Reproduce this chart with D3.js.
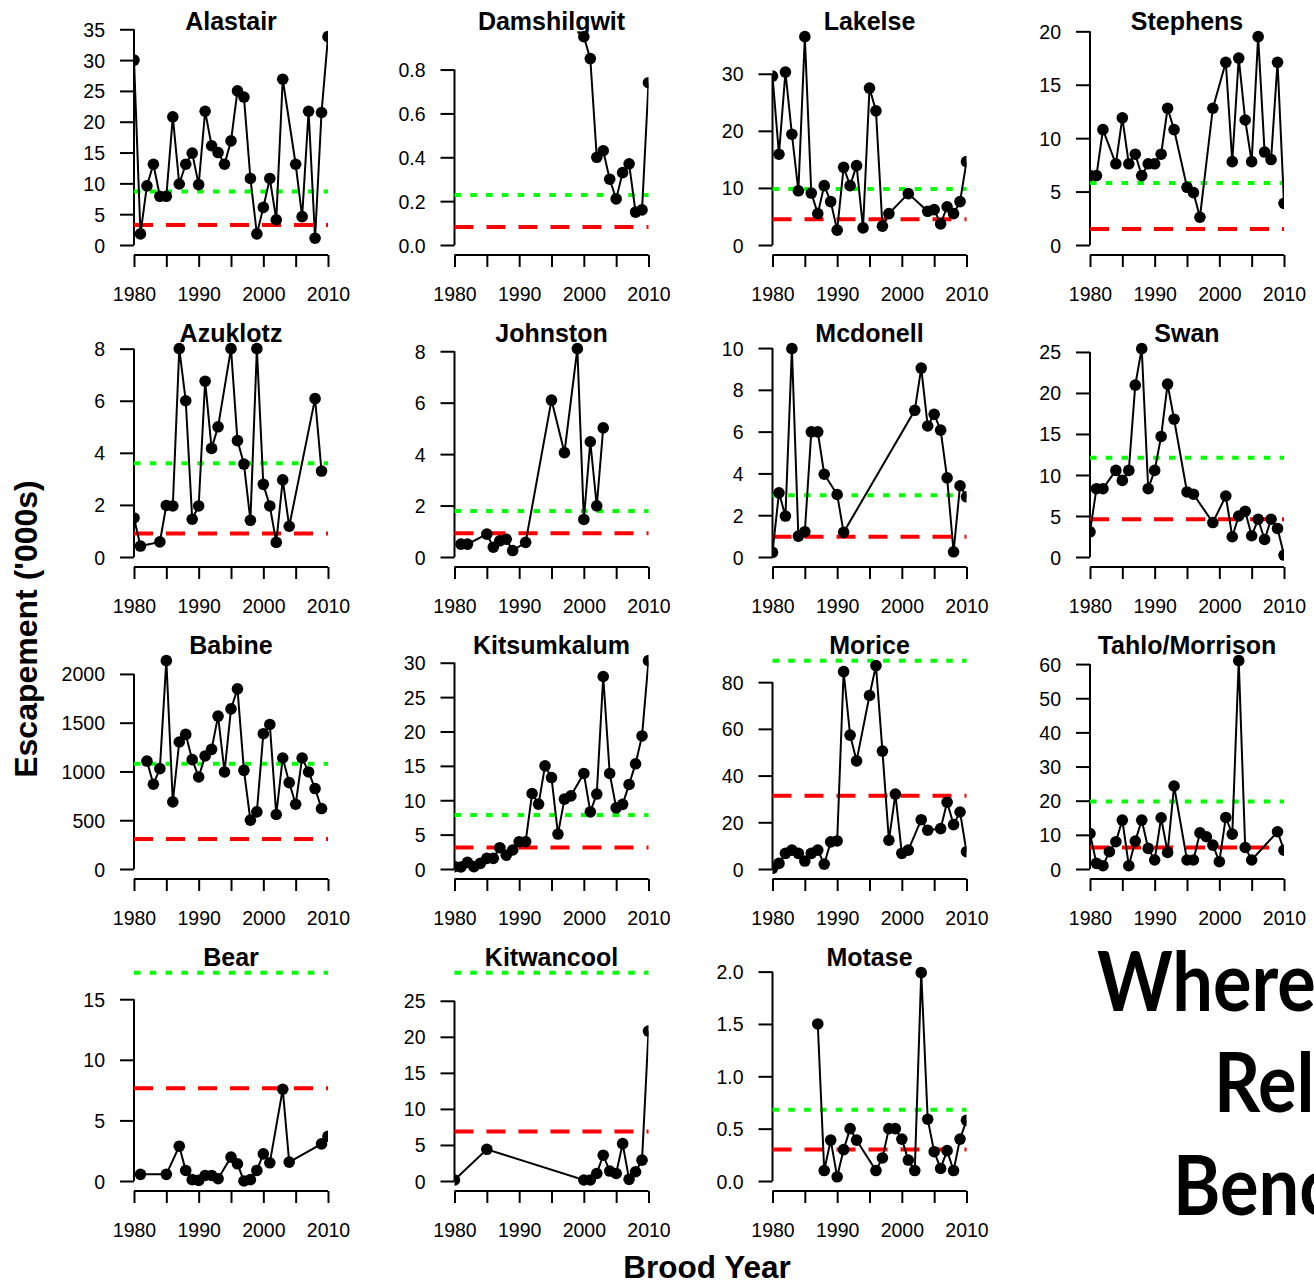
<!DOCTYPE html>
<html lang="en">
<head>
<meta charset="UTF-8">
<title>Skeena sockeye escapement vs benchmarks</title>
<script src="https://d3js.org/d3.v7.min.js"></script>
<style>
  body { margin: 0; background: #fff; }
  svg { display: block; font-family: "Liberation Sans", Arial, sans-serif; }
</style>
</head>
<body>
<svg id="chart" width="1314" height="1284"></svg>
<script>
// escapement ('000s) by brood year, one pair of arrays per stock
const alastairYears = [1980,1981,1982,1983,1984,1985,1986,1987,1988,1989,1990,1991,1992,1993,1994,1995,1996,1997,1998,1999,2000,2001,2002,2003,2005,2006,2007,2008,2009,2010];
const alastairEsc   = [30,1.8,9.6,13.1,7.9,7.9,20.8,9.9,13.1,14.9,9.8,21.7,16.1,15.0,13.1,16.9,25.0,24.0,10.8,1.8,6.1,10.8,4.1,26.9,13.1,4.6,21.7,1.1,21.5,33.8];

const damshilgwitYears = [2000,2001,2002,2003,2004,2005,2006,2007,2008,2009,2010];
const damshilgwitEsc   = [0.95,0.85,0.40,0.43,0.30,0.21,0.33,0.37,0.15,0.16,0.74];

const lakelseYears = [1980,1981,1982,1983,1984,1985,1986,1987,1988,1989,1990,1991,1992,1993,1994,1995,1996,1997,1998,2001,2004,2005,2006,2007,2008,2009,2010];
const lakelseEsc   = [29.6,15.9,30.3,19.4,9.5,36.5,9.1,5.5,10.4,7.6,2.6,13.6,10.4,13.9,3.0,27.5,23.5,3.3,5.5,9.0,5.9,6.2,3.7,6.7,5.5,7.6,14.6];

const stephensYears = [1980,1981,1982,1984,1985,1986,1987,1988,1989,1990,1991,1992,1993,1995,1996,1997,1999,2001,2002,2003,2004,2005,2006,2007,2008,2009,2010];
const stephensEsc   = [6.5,6.5,10.8,7.6,11.9,7.6,8.5,6.5,7.6,7.6,8.5,12.8,10.8,5.4,4.9,2.6,12.8,17.1,7.8,17.5,11.7,7.8,19.5,8.7,8.0,17.1,3.9];

const azuklotzYears = [1980,1981,1984,1985,1986,1987,1988,1989,1990,1991,1992,1993,1995,1996,1997,1998,1999,2000,2001,2002,2003,2004,2008,2009];
const azuklotzEsc   = [1.5,0.42,0.58,1.98,1.96,8.0,6.0,1.45,1.96,6.75,4.17,5.0,8.0,4.47,3.57,1.41,8.0,2.79,1.96,0.56,2.96,1.18,6.08,3.3];

const johnstonYears = [1981,1982,1985,1986,1987,1988,1989,1991,1995,1997,1999,2000,2001,2002,2003];
const johnstonEsc   = [0.5,0.5,0.89,0.38,0.63,0.69,0.25,0.57,6.1,4.06,8.1,1.46,4.48,1.99,5.02];

const mcdonellYears = [1980,1981,1982,1983,1984,1985,1986,1987,1988,1990,1991,2002,2003,2004,2005,2006,2007,2008,2009,2010];
const mcdonellEsc   = [0.22,3.07,1.96,9.97,1.0,1.21,5.99,5.99,3.96,2.99,1.18,7.02,9.04,6.27,6.83,6.07,3.79,0.25,3.41,2.88];

const swanYears = [1980,1981,1982,1984,1985,1986,1987,1988,1989,1990,1991,1992,1993,1995,1996,1999,2001,2002,2003,2004,2005,2006,2007,2008,2009,2010];
const swanEsc   = [3.07,8.33,8.33,10.56,9.34,10.56,20.95,25.4,8.33,10.56,14.7,21.08,16.8,7.93,7.65,4.2,7.44,2.47,5.0,5.58,2.59,4.6,2.14,4.6,3.48,0.24];

const babineYears = [1982,1983,1984,1985,1986,1987,1988,1989,1990,1991,1992,1993,1994,1995,1996,1997,1998,1999,2000,2001,2002,2003,2004,2005,2006,2007,2008,2009];
const babineEsc   = [1107,869,1029,2136,688,1302,1380,1121,944,1159,1227,1567,995,1642,1847,1012,501,586,1387,1482,559,1138,886,664,1138,995,825,620];

const kitsumkalumYears = [1980,1981,1982,1983,1984,1985,1986,1987,1988,1989,1990,1991,1992,1993,1994,1995,1996,1997,1998,2000,2001,2002,2003,2004,2005,2006,2007,2008,2009,2010];
const kitsumkalumEsc   = [0.34,0.3,0.97,0.34,0.82,1.55,1.55,3.1,2.0,2.76,3.97,3.97,10.98,9.43,15.0,13.3,5.08,10.16,10.64,13.9,8.3,10.9,28.0,13.9,8.9,9.4,12.3,15.3,19.35,30.3];

const moriceYears = [1980,1981,1982,1983,1984,1985,1986,1987,1988,1989,1990,1991,1992,1993,1995,1996,1997,1998,1999,2000,2001,2003,2004,2006,2007,2008,2009,2010];
const moriceEsc   = [0.3,2.4,6.7,8.1,6.7,3.4,6.7,8.1,2.1,11.6,12.0,84.5,57.3,46.3,74.3,87.1,50.5,12.3,32.1,6.7,8.1,21.1,16.6,17.3,28.6,19.0,24.4,7.4];

const tahloYears = [1980,1981,1982,1983,1984,1985,1986,1987,1988,1989,1990,1991,1992,1993,1995,1996,1997,1998,1999,2000,2001,2002,2003,2004,2005,2009,2010];
const tahloEsc   = [10.4,1.65,0.97,5.06,7.98,14.3,0.97,8.17,14.3,6.03,2.63,15.0,4.86,24.3,2.63,2.63,10.6,9.44,7.0,2.14,15.1,10.2,61.0,6.3,2.63,10.9,5.5];

const bearYears = [1981,1985,1987,1988,1989,1990,1991,1992,1993,1995,1996,1997,1998,1999,2000,2001,2003,2004,2009,2010];
const bearEsc   = [0.55,0.55,2.87,0.87,0.11,0.05,0.46,0.46,0.19,1.97,1.42,0,0.11,0.87,2.24,1.5,7.57,1.56,3.06,3.69];

const kitwancoolYears = [1980,1985,2000,2001,2002,2003,2004,2005,2006,2007,2008,2009,2010];
const kitwancoolEsc   = [0.14,4.4,0.14,0.14,1.05,3.58,1.38,1.05,5.18,0.23,1.28,2.89,20.8];

const motaseYears = [1987,1988,1989,1990,1991,1992,1993,1996,1997,1998,1999,2000,2001,2002,2003,2004,2005,2006,2007,2008,2009,2010];
const motaseEsc   = [1.50,0.10,0.39,0.04,0.30,0.50,0.39,0.10,0.22,0.50,0.50,0.40,0.20,0.10,1.99,0.59,0.28,0.12,0.29,0.10,0.40,0.58];

// panel order (row by row) and benchmarks
const stockNames = ["Alastair","Damshilgwit","Lakelse","Stephens","Azuklotz","Johnston","Mcdonell","Swan",
                    "Babine","Kitsumkalum","Morice","Tahlo/Morrison","Bear","Kitwancool","Motase"];
const upperBench = [8.67,0.228,9.8,5.8,3.6,1.79,2.95,12.1,1080,7.84,89.2,19.8,17.19,28.9,0.68];
const lowerBench = [3.26,0.082,4.5,1.5,0.9,0.92,0.97,4.6,307,3.14,31.4,6.3,7.65,6.88,0.30];
const yTicks = [
  [0,5,10,15,20,25,30,35], [0,0.2,0.4,0.6,0.8], [0,10,20,30], [0,5,10,15,20],
  [0,2,4,6,8], [0,2,4,6,8], [0,2,4,6,8,10], [0,5,10,15,20,25],
  [0,500,1000,1500,2000], [0,5,10,15,20,25,30], [0,20,40,60,80], [0,10,20,30,40,50,60],
  [0,5,10,15], [0,5,10,15,20,25], [0,0.5,1,1.5,2]
];
const yearTicks = [1980,1985,1990,1995,2000,2005,2010];

const seriesYears = [alastairYears,damshilgwitYears,lakelseYears,stephensYears,azuklotzYears,johnstonYears,mcdonellYears,swanYears,
                     babineYears,kitsumkalumYears,moriceYears,tahloYears,bearYears,kitwancoolYears,motaseYears];
const seriesEsc = [alastairEsc,damshilgwitEsc,lakelseEsc,stephensEsc,azuklotzEsc,johnstonEsc,mcdonellEsc,swanEsc,
                   babineEsc,kitsumkalumEsc,moriceEsc,tahloEsc,bearEsc,kitwancoolEsc,motaseEsc];

// layout
const colX = [134, 454.5, 772.5, 1090];
const rowAxisY = [255, 567, 879, 1191];
const plotW = 194, plotH = 270;
const tickFont = 19.5;

const svg = d3.select("#chart");
svg.append("rect").attr("width", 1314).attr("height", 1284).attr("fill", "#fff");

stockNames.forEach((name, i) => {
  const x0 = colX[i % 4], axisY = rowAxisY[Math.floor(i / 4)];
  const pts = seriesYears[i].map((yr, k) => ({ yr, v: seriesEsc[i][k] }));
  const top = 1.2 * d3.max([...seriesEsc[i], upperBench[i], lowerBench[i]]);

  const x = d3.scaleLinear().domain([1980, 2010]).range([x0, x0 + plotW]);
  const y = d3.scaleLinear().domain([-0.04 * top, 1.04 * top]).range([axisY, axisY - plotH]);

  const g = svg.append("g");
  g.append("clipPath").attr("id", `clip${i}`)
    .append("rect")
      .attr("x", x0).attr("y", axisY - plotH - 30)
      .attr("width", plotW).attr("height", plotH + 30);

  // y axis, line only from 0 to top tick
  const ticks = yTicks[i];
  const fmt = ticks[ticks.length - 1] <= 2 ? d3.format(".1f") : d3.format("d");
  const ya = g.append("g")
    .attr("transform", `translate(${x0},0)`)
    .call(d3.axisLeft(y).tickValues(ticks).tickFormat(fmt).tickSize(14).tickPadding(15).tickSizeOuter(0));
  ya.select(".domain").remove();
  ya.append("line")
    .attr("y1", y(0)).attr("y2", y(ticks[ticks.length - 1]))
    .attr("stroke", "#000").attr("stroke-width", 2);
  ya.selectAll(".tick line").attr("stroke-width", 2);
  ya.selectAll("text")
    .attr("font-size", tickFont).attr("font-family", "Liberation Sans, Arial, sans-serif")
    .attr("fill", "#000").attr("dy", "0.36em");

  // x axis
  const xa = g.append("g")
    .attr("transform", `translate(0,${axisY})`)
    .call(d3.axisBottom(x).tickValues(yearTicks).tickFormat(d => d % 10 === 0 ? d : "").tickSize(12).tickSizeOuter(0));
  xa.select(".domain").attr("stroke-width", 2).attr("d", `M${x0},0H${x0 + plotW}`);
  xa.selectAll(".tick line").attr("stroke-width", 2);
  xa.selectAll("text")
    .attr("font-size", tickFont).attr("font-family", "Liberation Sans, Arial, sans-serif")
    .attr("fill", "#000").attr("y", 32).attr("dy", "0.71em");

  // benchmarks
  g.append("line")
    .attr("x1", x0).attr("x2", x0 + plotW)
    .attr("y1", y(upperBench[i])).attr("y2", y(upperBench[i]))
    .attr("stroke", "#00ff00").attr("stroke-width", 4).attr("stroke-dasharray", "6.5 9.3");
  g.append("line")
    .attr("x1", x0).attr("x2", x0 + plotW)
    .attr("y1", y(lowerBench[i])).attr("y2", y(lowerBench[i]))
    .attr("stroke", "#ff0000").attr("stroke-width", 4).attr("stroke-dasharray", "19 13");

  // series
  const data = g.append("g").attr("clip-path", `url(#clip${i})`);
  data.append("path")
    .datum(pts)
    .attr("fill", "none").attr("stroke", "#000").attr("stroke-width", 2)
    .attr("d", d3.line().x(d => x(d.yr)).y(d => y(d.v)));
  data.selectAll("circle")
    .data(pts)
    .join("circle")
      .attr("cx", d => x(d.yr)).attr("cy", d => y(d.v))
      .attr("r", 5.8).attr("fill", "#000");

  // title
  g.append("text")
    .attr("x", x0 + plotW / 2).attr("y", axisY - 225)
    .attr("text-anchor", "middle")
    .attr("font-size", 25).attr("font-weight", "bold")
    .text(name);
});

// axis titles
svg.append("text")
  .attr("transform", "translate(37,629) rotate(-90)")
  .attr("text-anchor", "middle")
  .attr("font-size", 32).attr("font-weight", "bold")
  .text("Escapement ('000s)");

svg.append("text")
  .attr("x", 707).attr("y", 1278)
  .attr("text-anchor", "middle")
  .attr("font-size", 31.5).attr("font-weight", "bold")
  .text("Brood Year");

// slide heading, cut by the right edge as in the source slide
const headLines = ["Where", "Rel", "Benc"];
const headX = [1097, 1214, 1173];
const headY = [1011, 1112, 1215];
svg.append("g")
  .attr("font-family", "Lato, 'Open Sans', sans-serif")
  .attr("font-weight", 700).attr("font-size", 82)
  .selectAll("text")
  .data(headLines)
  .join("text")
    .attr("transform", (d, k) => `translate(${headX[k]},${headY[k]}) scale(0.88,1)`)
    .text(d => d);
</script>
</body>
</html>
